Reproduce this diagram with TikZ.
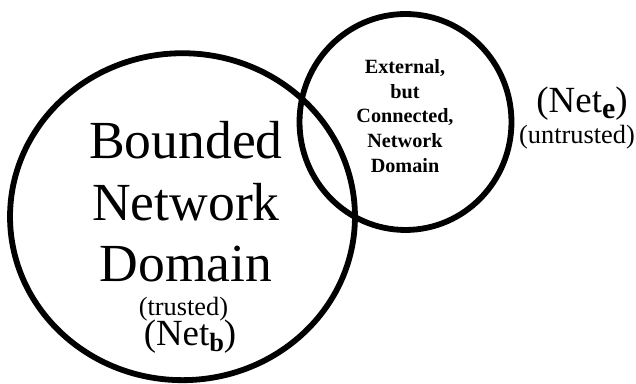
\documentclass[tikz,border=0pt]{standalone}
\usepackage{fontspec}
\setmainfont{Liberation Serif}
\usetikzlibrary{shapes.geometric}
\tikzset{
	netzone/.style={ellipse, draw=black, line width=3.3pt, inner sep=0pt},
	bigtxt/.style={align=center, font=\fontsize{30.5}{35.2}\selectfont, inner sep=0pt},
	smalltxt/.style={align=center, font=\fontsize{11.5}{14}\selectfont\bfseries, inner sep=0pt},
	tag/.style={anchor=base, inner sep=0pt, font=\fontsize{21}{21}\selectfont},
	note/.style={anchor=base, inner sep=0pt, font=\fontsize{15}{15}\selectfont},
}
\newcommand{\netsub}[2]{\raisebox{-0.11cm}{\fontsize{#2}{#2}\selectfont\bfseries #1}}

\begin{document}
\begin{tikzpicture}[x=0.02cm, y=-0.02cm]
	\useasboundingbox (0,0) rectangle (636,384);
	% the two domains
	\node[netzone, minimum width=6.9cm, minimum height=6.54cm] (bnd) at (182.5,216.7) {};
	\node[netzone, minimum width=4.24cm, minimum height=4.32cm] (ext) at (405.5,122) {};
	% texts
	\node[bigtxt] (bndtxt) at (186,201.7) {Bounded\\Network\\Domain};
	\node[smalltxt] (exttxt) at (405,116) {External,\\but\\Connected,\\Network\\Domain};
	\node[note] (trusted) at (183.5,316) {(trusted)};
	\node[tag] (netb) at (190,346) {(Net\netsub{b}{15})};
	\node[tag] (nete) at (582,113) {(Net\netsub{e}{17})};
	\node[note] (untrusted) at (577,144) {(untrusted)};
\end{tikzpicture}
\end{document}
